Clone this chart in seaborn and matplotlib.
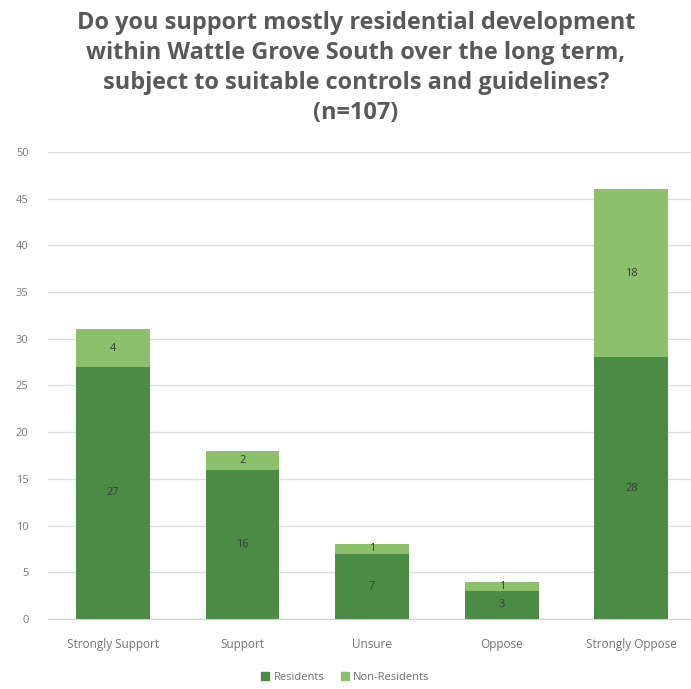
import numpy as np
import pandas as pd
import matplotlib.pyplot as plt
import seaborn as sns
from matplotlib.patches import Patch

categories = ['Strongly Support', 'Support', 'Unsure', 'Oppose', 'Strongly Oppose']
residents = [27, 16, 7, 3, 28]
non_residents = [4, 2, 1, 1, 18]
series_names = ['Residents', 'Non-Residents']

dark_green = '#4b8c45'
light_green = '#8dc06b'

df = pd.DataFrame({'category': categories,
                   'Residents': residents,
                   'Non-Residents': non_residents})
df['Total'] = df['Residents'] + df['Non-Residents']

sns.set_style('white')
plt.rcParams['font.family'] = ['Open Sans', 'DejaVu Sans']

fig = plt.figure(figsize=(6.91, 6.89), dpi=100)
ax = fig.add_axes([0.0695, 0.1016, 0.9305, 0.6778])

# stacked bars: totals in light green, residents on top in dark green
sns.barplot(ax=ax, data=df, x='category', y='Total', color=light_green,
            width=0.57, saturation=1, order=categories, edgecolor='none')
sns.barplot(ax=ax, data=df, x='category', y='Residents', color=dark_green,
            width=0.57, saturation=1, order=categories, edgecolor='none')

# segment labels
bars_res = ax.patches[len(categories):]
for b, r, n in zip(bars_res, residents, non_residents):
    cx = b.get_x() + b.get_width() / 2
    ax.text(cx, r / 2, str(r), ha='center', va='center', fontsize=8, color='#3a3a3a')
    ax.text(cx, r + n / 2, str(n), ha='center', va='center', fontsize=8, color='#3a3a3a')

ax.set_ylim(0, 50)
ax.set_yticks(np.arange(0, 51, 5))
ax.set_xlim(-0.5, 4.46)
ax.yaxis.grid(True, color='#dcdcdc', lw=1)
ax.set_axisbelow(True)
for s in ax.spines.values():
    s.set_visible(False)
ax.spines['bottom'].set_visible(True)
ax.spines['bottom'].set_color('#d0d0d0')
ax.tick_params(axis='y', labelsize=8, labelcolor='#7a7a7a', length=0, pad=14)
ax.tick_params(axis='x', labelsize=8.5, labelcolor='#737373', length=0, pad=14)
ax.set_xlabel('')
ax.set_ylabel('')

fig.suptitle('Do you support mostly residential development\n'
             'within Wattle Grove South over the long term,\n'
             'subject to suitable controls and guidelines?\n(n=107)',
             x=0.515, y=0.984, fontsize=16.9, fontweight='bold', color='#595959',
             linespacing=1.33, va='top')

handles = [Patch(color=dark_green), Patch(color=light_green)]
fig.legend(handles, series_names, loc='center', bbox_to_anchor=(0.5, 0.017),
           ncol=2, frameon=False, fontsize=8, handlelength=0.7, handleheight=0.7,
           columnspacing=1.5, handletextpad=0.4, labelcolor='#6f6f6f')

fig.savefig('out.png', dpi=100)
